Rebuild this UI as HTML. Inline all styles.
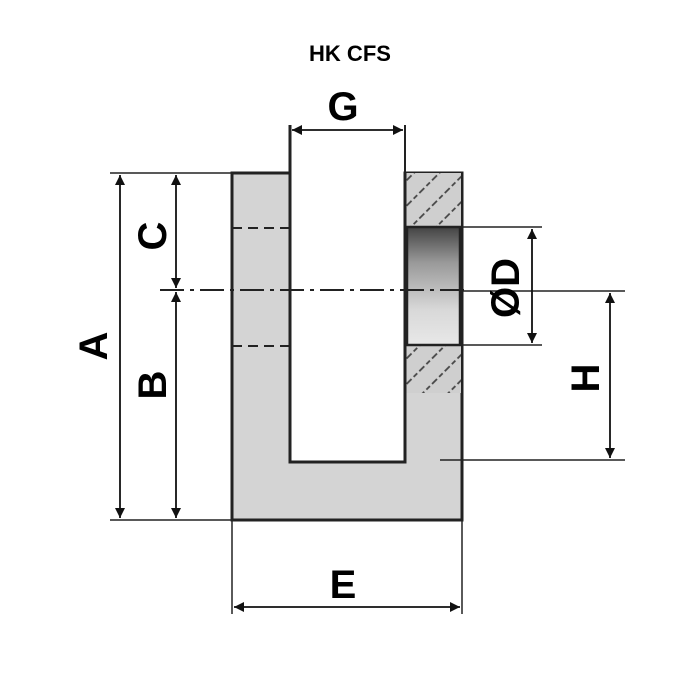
<!DOCTYPE html>
<html><head><style>html,body{margin:0;padding:0;background:#fff}svg{display:block}</style></head>
<body>
<svg width="700" height="700" viewBox="0 0 700 700" xmlns="http://www.w3.org/2000/svg">
<defs>
<marker id="ar" markerWidth="10" markerHeight="16" refX="10" refY="5" orient="auto-start-reverse" markerUnits="userSpaceOnUse">
<path d="M0,0 L10,5 L0,10 z" fill="#111"/></marker>
<linearGradient id="hole" x1="0" y1="0" x2="0" y2="1">
<stop offset="0" stop-color="#444"/><stop offset="0.3" stop-color="#999"/><stop offset="0.7" stop-color="#d8d8d8"/><stop offset="1" stop-color="#e8e8e8"/></linearGradient>
<pattern id="hat" width="18" height="18" patternUnits="userSpaceOnUse" patternTransform="rotate(-45)">
<rect width="18" height="18" fill="#cfcfcf"/><line x1="0" y1="1" x2="18" y2="1" stroke="#444" stroke-width="1.8" stroke-dasharray="5 3"/></pattern>
</defs>
<text x="350" y="61" font-family="Liberation Sans, sans-serif" font-weight="bold" font-size="22" text-anchor="middle">HK CFS</text>
<path d="M232,173 H290 V462 H405 V173 H462 V520 H232 Z" fill="#d4d4d4" stroke="#222" stroke-width="3"/>
<rect x="405" y="173" width="56" height="54" fill="url(#hat)"/>
<rect x="405" y="345" width="56" height="48" fill="url(#hat)"/>
<rect x="407" y="227" width="53" height="118" fill="url(#hole)" stroke="#222" stroke-width="2.5"/>
<line x1="405" y1="173" x2="405" y2="462" stroke="#222" stroke-width="3"/>
<line x1="290" y1="125" x2="290" y2="462" stroke="#222" stroke-width="3"/>
<line x1="405" y1="125" x2="405" y2="173" stroke="#222" stroke-width="2"/>
<g stroke="#222" stroke-width="2" stroke-dasharray="10 6">
<line x1="232" y1="228" x2="290" y2="228"/><line x1="232" y1="346" x2="290" y2="346"/></g>
<line x1="160" y1="290" x2="470" y2="290" stroke="#222" stroke-width="2" stroke-dasharray="24 6 4 6"/>
<g stroke="#222" stroke-width="1.5">
<line x1="110" y1="173" x2="232" y2="173"/><line x1="110" y1="520" x2="232" y2="520"/>
<line x1="462" y1="227" x2="542" y2="227"/><line x1="462" y1="345" x2="542" y2="345"/>
<line x1="462" y1="291" x2="625" y2="291"/><line x1="440" y1="460" x2="625" y2="460"/>
<line x1="232" y1="520" x2="232" y2="614"/><line x1="462" y1="520" x2="462" y2="614"/>
</g>
<g stroke="#111" stroke-width="1.8" marker-start="url(#ar)" marker-end="url(#ar)">
<line x1="120" y1="175" x2="120" y2="518"/>
<line x1="176" y1="175" x2="176" y2="288"/>
<line x1="176" y1="292" x2="176" y2="518"/>
<line x1="292" y1="130" x2="403" y2="130"/>
<line x1="234" y1="607" x2="460" y2="607"/>
<line x1="532" y1="229" x2="532" y2="343"/>
<line x1="610" y1="293" x2="610" y2="458"/>
</g>
<g font-family="Liberation Sans, sans-serif" font-weight="bold" font-size="40" fill="#000" text-anchor="middle">
<text x="343" y="120">G</text>
<text x="343" y="598">E</text>
<text transform="translate(107,346) rotate(-90)">A</text>
<text transform="translate(166,236) rotate(-90)">C</text>
<text transform="translate(166,385) rotate(-90)">B</text>
<text transform="translate(519,288) rotate(-90)">ØD</text>
<text transform="translate(599,378) rotate(-90)">H</text>
</g>
</svg>
</body></html>
